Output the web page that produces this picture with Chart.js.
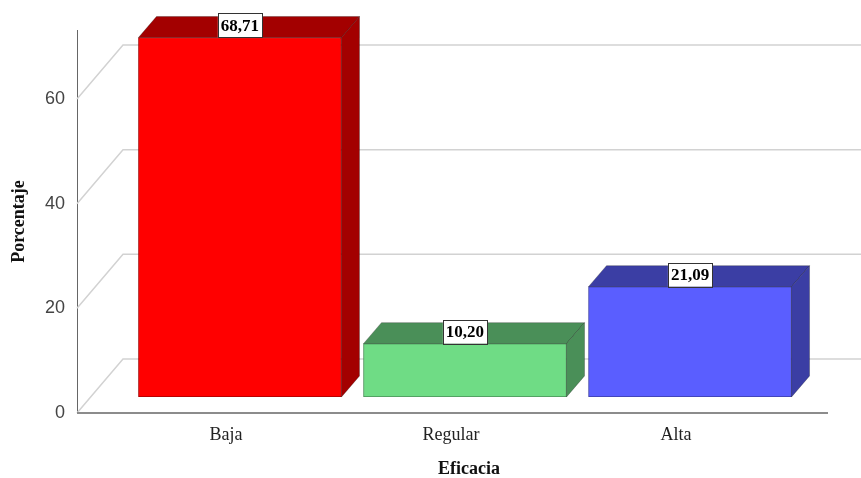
<!DOCTYPE html>
<html>
<head>
<meta charset="utf-8">
<script src="https://cdn.jsdelivr.net/npm/chart.js@4"></script>
<style>
  html, body { margin: 0; padding: 0; background: #fff; }
  #chart { display: block; }
</style>
</head>
<body>
<canvas id="chart" width="861" height="478"></canvas>
<script>
// Eficacia — porcentaje por nivel
const categories  = ['Baja', 'Regular', 'Alta'];
const porcentajes = [68.71, 10.20, 21.09];
const yTicks      = [0, 20, 40, 60];
const frontColors = ['#ff0000', '#6fdc85', '#5a5eff'];
const sideColors  = ['#a30000', '#4a8f58', '#3b3ea4'];

// 3D offsets (px): back wall depth, bar plane shift, bar depth
const WALL = { dx: 46, dy: -54 };
const PLANE = { dx: 14, dy: -16 };
const DEPTH = { dx: 18, dy: -21 };

const fmt = v => v.toFixed(2).replace('.', ',');

const wall3d = {
  id: 'wall3d',
  beforeDatasetsDraw(chart) {
    const { ctx, chartArea: a, scales: { y } } = chart;
    ctx.save();
    ctx.strokeStyle = '#d2d2d2';
    ctx.lineWidth = 1.5;
    yTicks.forEach(t => {
      const py = y.getPixelForValue(t);
      ctx.beginPath();
      ctx.moveTo(a.left, py);
      ctx.lineTo(a.left + WALL.dx, py + WALL.dy);
      ctx.lineTo(chart.width, py + WALL.dy);
      ctx.stroke();
    });
    // floor line
    ctx.strokeStyle = '#8c8c8c';
    ctx.lineWidth = 2;
    ctx.beginPath();
    ctx.moveTo(a.left, a.bottom);
    ctx.lineTo(828, a.bottom);
    ctx.stroke();
    ctx.restore();

    // bars sit a bit behind the front plane
    ctx.save();
    ctx.translate(PLANE.dx, PLANE.dy);
  },
  afterDatasetsDraw(chart) {
    const { ctx } = chart;
    const meta = chart.getDatasetMeta(0);
    meta.data.forEach((bar, i) => {
      const { x, y, base, width } = bar.getProps(['x', 'y', 'base', 'width'], true);
      const l = x - width / 2, r = x + width / 2;
      ctx.fillStyle = sideColors[i];
      ctx.strokeStyle = 'rgba(0,0,0,0.25)';
      ctx.lineWidth = 1;
      // top face
      ctx.beginPath();
      ctx.moveTo(l, y);
      ctx.lineTo(l + DEPTH.dx, y + DEPTH.dy);
      ctx.lineTo(r + DEPTH.dx, y + DEPTH.dy);
      ctx.lineTo(r, y);
      ctx.closePath();
      ctx.fill();
      ctx.stroke();
      // right face
      ctx.beginPath();
      ctx.moveTo(r, y);
      ctx.lineTo(r + DEPTH.dx, y + DEPTH.dy);
      ctx.lineTo(r + DEPTH.dx, base + DEPTH.dy);
      ctx.lineTo(r, base);
      ctx.closePath();
      ctx.fill();
      ctx.stroke();
    });

    // value boxes
    ctx.font = 'bold 17px "Liberation Serif", "Times New Roman", serif';
    ctx.textAlign = 'center';
    ctx.textBaseline = 'middle';
    meta.data.forEach((bar, i) => {
      const { x, y } = bar.getProps(['x', 'y'], true);
      const txt = fmt(porcentajes[i]);
      const w = ctx.measureText(txt).width + 6, h = 24;
      ctx.fillStyle = '#fff';
      ctx.fillRect(x - w / 2, y - h, w, h);
      ctx.strokeStyle = '#333';
      ctx.lineWidth = 1;
      ctx.strokeRect(Math.round(x - w / 2) + 0.5, Math.round(y - h) + 0.5, Math.round(w), h);
      ctx.fillStyle = '#000';
      ctx.fillText(txt, x, y - h / 2 + 1);
    });
    ctx.restore();
  }
};

new Chart(document.getElementById('chart'), {
  type: 'bar',
  data: {
    datasets: [{
      data: porcentajes.map((v, i) => ({ x: i, y: v })),
      backgroundColor: frontColors,
      borderColor: sideColors,
      borderWidth: 1,
      borderSkipped: false,
      barThickness: 203
    }]
  },
  options: {
    responsive: false,
    animation: false,
    layout: { padding: { top: 30, right: 0, left: 0, bottom: 0 } },
    plugins: { legend: { display: false }, tooltip: { enabled: false } },
    scales: {
      x: {
        type: 'linear',
        offset: false,
        min: -0.662,
        max: 2.822,
        grid: { display: false, drawTicks: false, offset: false },
        border: { display: false },
        afterFit: s => { s.height = 65; },
        afterBuildTicks: s => { s.ticks = categories.map((_, i) => ({ value: i })); },
        ticks: {
          padding: 11,
          color: '#222',
          font: { family: '"Liberation Serif", "Times New Roman", serif', size: 18 },
          callback: v => categories[v]
        },
        title: {
          display: true,
          text: 'Eficacia',
          color: '#111',
          padding: { top: 0, bottom: -2 },
          font: { family: '"Liberation Serif", "Times New Roman", serif', size: 18, weight: 'bold' }
        }
      },
      y: {
        min: 0,
        max: 73.2,
        grid: { display: false, drawTicks: false },
        border: { display: true, color: '#666', width: 1 },
        afterFit: s => { s.width = 77; },
        afterBuildTicks: s => { s.ticks = yTicks.map(v => ({ value: v })); },
        ticks: {
          padding: 12,
          color: '#444',
          font: { family: '"Liberation Sans", Arial, sans-serif', size: 18 }
        },
        title: {
          display: true,
          text: 'Porcentaje',
          color: '#111',
          padding: { top: 9, bottom: 0 },
          font: { family: '"Liberation Serif", "Times New Roman", serif', size: 18, weight: 'bold' }
        }
      }
    }
  },
  plugins: [wall3d]
});
</script>
</body>
</html>
